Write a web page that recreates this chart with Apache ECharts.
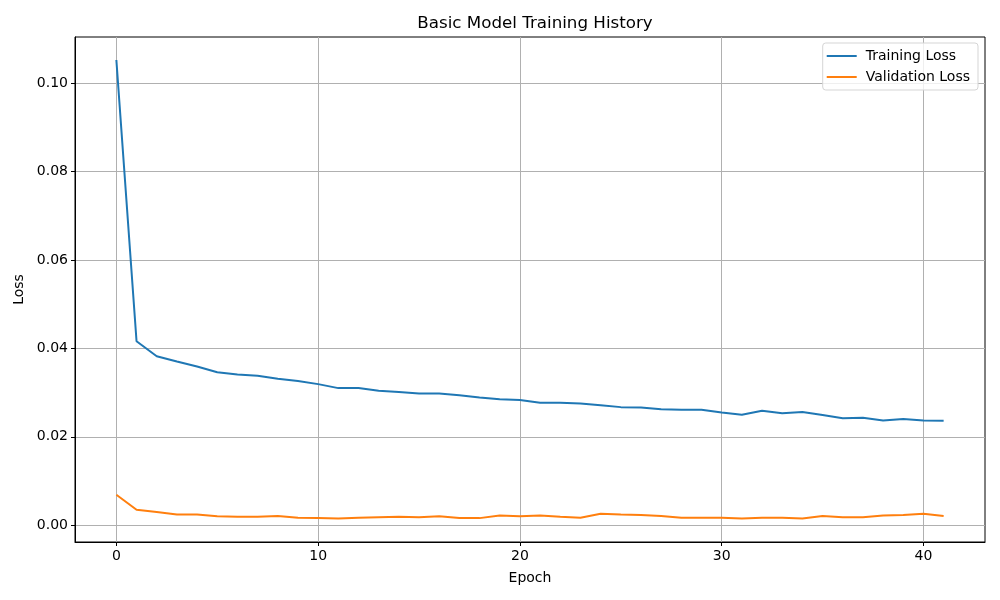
<!DOCTYPE html>
<html>
<head>
<meta charset="utf-8">
<script src="https://cdn.jsdelivr.net/npm/echarts@6/dist/echarts.min.js"></script>
<style>
  html, body { margin: 0; padding: 0; background: #fff; }
  #chart { width: 1000px; height: 600px; }
</style>
</head>
<body>
<div id="chart"></div>
<script>
// epochs 0..41
var epochs = [];
for (var i = 0; i < 42; i++) epochs.push(i);

var trainLoss = [
	0.1052, 0.0416, 0.0382, 0.0370, 0.0359, 0.0346, 0.0341, 0.0338, 0.0331, 0.0326,
	0.0319, 0.0310, 0.0310, 0.0304, 0.0301, 0.0298, 0.0298, 0.0294, 0.0289, 0.0285,
	0.0283, 0.0277, 0.0277, 0.0275, 0.0271, 0.0267, 0.0266, 0.0262, 0.0261, 0.0261,
	0.0255, 0.0250, 0.0259, 0.0253, 0.0256, 0.0249, 0.0242, 0.0243, 0.0237, 0.0240,
	0.0237, 0.0236
];
var valLoss = [
	0.0069, 0.0035, 0.0030, 0.0024, 0.0024, 0.0020, 0.0019, 0.0019, 0.0021, 0.0017,
	0.0016, 0.0015, 0.0017, 0.0018, 0.0019, 0.0018, 0.0020, 0.0016, 0.0016, 0.0022,
	0.0020, 0.0022, 0.0019, 0.0017, 0.0026, 0.0024, 0.0023, 0.0021, 0.0017, 0.0017,
	0.0017, 0.0015, 0.0017, 0.0017, 0.0015, 0.0021, 0.0018, 0.0018, 0.0022, 0.0023,
	0.0026, 0.0021
];
var xTicks = [0, 10, 20, 30, 40];
var yTicks = [0, 0.02, 0.04, 0.06, 0.08, 0.10];

function pairs(ys) {
	return epochs.map(function(x, i) { return [x, ys[i]]; });
}

var font = 'DejaVu Sans';
var chart = echarts.init(document.getElementById('chart'));
var option = {
	backgroundColor: '#ffffff',
	animation: false,
	textStyle: { fontFamily: font },
	title: {
		text: 'Basic Model Training History',
		left: 530,
		textAlign: 'center',
		top: 10,
		textStyle: { fontFamily: font, fontSize: 16.7, fontWeight: 'normal', color: '#000' }
	},
	legend: {
		orient: 'vertical',
		right: 22,
		top: 43,
		padding: [6, 8, 6, 4],
		itemGap: 7,
		itemWidth: 30,
		itemHeight: 2,
		icon: 'rect',
		backgroundColor: 'rgba(255,255,255,0.8)',
		borderColor: '#d5d5d5',
		borderWidth: 1,
		borderRadius: 3,
		textStyle: { fontFamily: font, fontSize: 14, color: '#000', padding: [0, 0, 0, 4] },
		data: ['Training Loss', 'Validation Loss']
	},
	grid: {
		left: 75, right: 15, top: 37, bottom: 58,
		show: true, borderColor: '#000', borderWidth: 1,
		backgroundColor: 'transparent'
	},
	xAxis: {
		type: 'value',
		min: -2.05,
		max: 43.05,
		name: 'Epoch',
		nameLocation: 'middle',
		nameGap: 29,
		nameTextStyle: { fontFamily: font, fontSize: 14, color: '#000' },
		axisLine: { show: true, onZero: false, lineStyle: { color: '#000' } },
		axisTick: { show: true, inside: false, length: 4, customValues: xTicks, lineStyle: { color: '#000' } },
		axisLabel: { customValues: xTicks, fontSize: 14, color: '#000', margin: 7 },
		splitLine: { show: true, lineStyle: { color: '#b0b0b0', width: 1 } }
	},
	yAxis: {
		type: 'value',
		min: -0.0038,
		max: 0.1104,
		name: 'Loss',
		nameLocation: 'middle',
		nameGap: 40,
		nameRotate: 90,
		nameTextStyle: { fontFamily: font, fontSize: 14, color: '#000' },
		axisLine: { show: true, onZero: false, lineStyle: { color: '#000' } },
		axisTick: { show: true, inside: false, length: 4, customValues: yTicks, lineStyle: { color: '#000' } },
		axisLabel: {
			customValues: yTicks, fontSize: 14, color: '#000', margin: 7,
			formatter: function(v) { return v.toFixed(2); }
		},
		splitLine: { show: true, lineStyle: { color: '#b0b0b0', width: 1 } }
	},
	series: [
		{
			name: 'Training Loss',
			type: 'line',
			data: pairs(trainLoss),
			symbol: 'none',
			lineStyle: { color: '#1f77b4', width: 2 },
			itemStyle: { color: '#1f77b4' }
		},
		{
			name: 'Validation Loss',
			type: 'line',
			data: pairs(valLoss),
			symbol: 'none',
			lineStyle: { color: '#ff7f0e', width: 2 },
			itemStyle: { color: '#ff7f0e' }
		}
	]
};
chart.setOption(option);
</script>
</body>
</html>
